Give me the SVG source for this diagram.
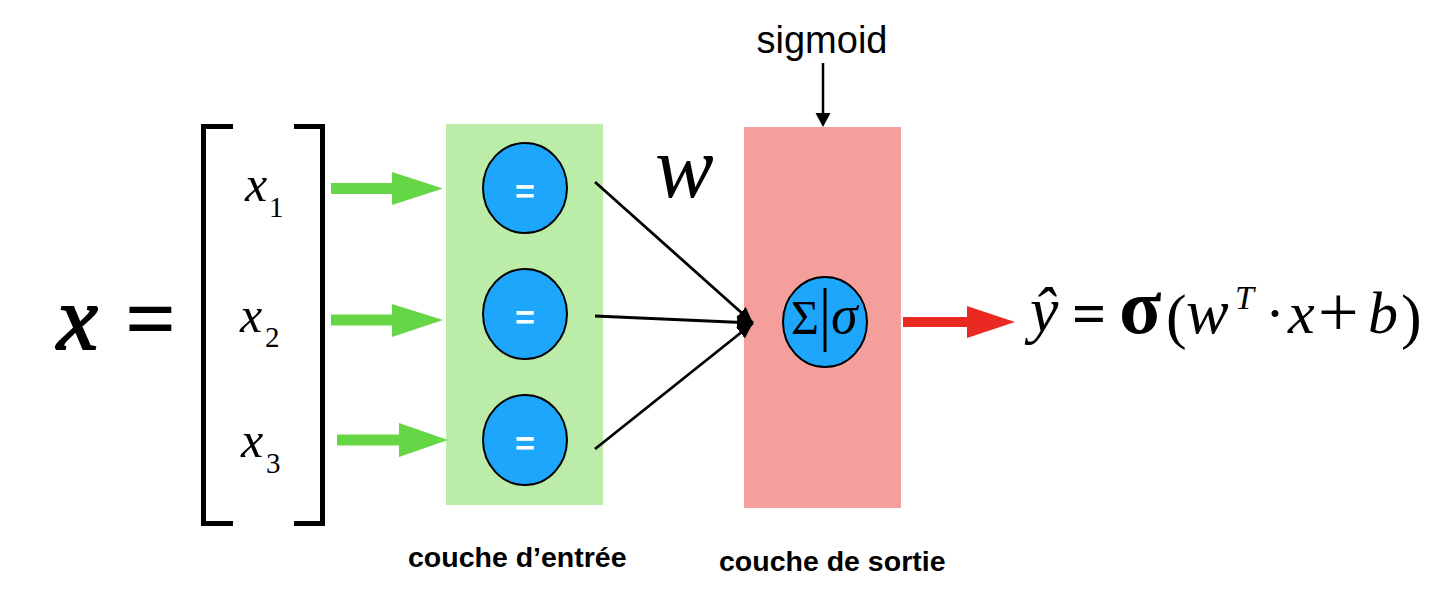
<svg xmlns="http://www.w3.org/2000/svg" width="1440" height="598" viewBox="0 0 1440 598">
  <style>
    .math { font-family: "Liberation Serif", "Times New Roman", serif; fill: #000; }
    .it { font-style: italic; }
    .lbl { font-family: "Liberation Sans", Arial, sans-serif; font-weight: bold; font-size: 28.5px; fill: #000; }
    .sans { font-family: "Liberation Sans", Arial, sans-serif; fill: #000; }
    .neuron { fill: #1ea6fc; stroke: #000; stroke-width: 2; }
    .eq { font-family: "Liberation Sans", Arial, sans-serif; font-weight: bold; font-size: 34px; fill: #fff; }
    .bracket { fill: none; stroke: #000; stroke-width: 5; }
    .wline { stroke: #000; stroke-width: 2.8; fill: none; }
    .garrow { fill: #65d645; }
    .rarrow { fill: #ea2a22; }
  </style>
  <defs>
    <marker id="ah" viewBox="0 0 16 14" refX="16" refY="7" markerWidth="16" markerHeight="14" markerUnits="userSpaceOnUse" orient="auto">
      <path d="M0,0 L16,7 L0,14 z" fill="#000"/>
    </marker>
  </defs>

  <rect width="1440" height="598" fill="#fff"/>

  <!-- Input vector -->
  <g id="input-vector">
    <text class="math it" x="57" y="349" font-size="92" stroke="#000" stroke-width="2">x</text>
    <text class="math" x="125" y="349" font-size="90" font-weight="bold">=</text>
    <path class="bracket" d="M233,126.5 H203.5 V523.5 H233"/>
    <path class="bracket" d="M294,126.5 H322.5 V523.5 H294"/>
    <text class="math it" x="245" y="201" font-size="50">x</text>
    <text class="math" x="269" y="217" font-size="29">1</text>
    <text class="math it" x="240" y="332" font-size="50">x</text>
    <text class="math" x="265" y="347" font-size="29">2</text>
    <text class="math it" x="241" y="457" font-size="50">x</text>
    <text class="math" x="266" y="473" font-size="29">3</text>
  </g>

  <!-- Input layer -->
  <g id="input-layer">
    <rect x="446" y="124" width="157" height="381" fill="#bbeda9"/>
    <g id="in1">
      <ellipse class="neuron" cx="525" cy="188" rx="42" ry="45"/>
      <text class="eq" x="525" y="203" text-anchor="middle">=</text>
    </g>
    <g id="in2">
      <ellipse class="neuron" cx="525" cy="314" rx="42" ry="45"/>
      <text class="eq" x="525" y="329" text-anchor="middle">=</text>
    </g>
    <g id="in3">
      <ellipse class="neuron" cx="525" cy="440" rx="42" ry="45"/>
      <text class="eq" x="525" y="455" text-anchor="middle">=</text>
    </g>
  </g>

  <!-- Output layer -->
  <g id="output-layer">
    <rect x="744" y="127" width="157" height="381" fill="#f59f9c"/>
    <g id="out">
      <ellipse class="neuron" cx="825" cy="322" rx="42" ry="45"/>
      <text class="math" x="791" y="334" font-size="48">Σ</text>
      <line x1="825" y1="288" x2="825" y2="352" stroke="#000" stroke-width="3"/>
      <text class="math it" x="831" y="333" font-size="54">σ</text>
    </g>
  </g>

  <!-- Connectors -->
  <g id="connectors">
    <polygon class="garrow" points="331,183 392,183 392,172 443,188.5 392,205 392,194 331,194"/>
    <polygon class="garrow" points="331,314.5 392,314.5 392,304 443,320 392,337 392,325.5 331,325.5"/>
    <polygon class="garrow" points="337,434.5 399,434.5 399,423 448,440 399,457 399,445.5 337,445.5"/>
    <line class="wline" x1="595" y1="182" x2="753" y2="323" marker-end="url(#ah)"/>
    <line class="wline" x1="595" y1="316" x2="753" y2="323" marker-end="url(#ah)"/>
    <line class="wline" x1="595" y1="449" x2="753" y2="323" marker-end="url(#ah)"/>
    <polygon class="rarrow" points="903,317 967,317 967,306 1015,322 967,338 967,327 903,327"/>
    <line x1="823" y1="63" x2="823" y2="114" stroke="#000" stroke-width="2.5"/>
    <polygon points="815.5,113 830.5,113 823,127" fill="#000"/>
  </g>

  <!-- Labels -->
  <g id="labels">
    <text class="math it" x="655" y="197" font-size="88">w</text>
    <text class="sans" x="822" y="53" font-size="38" text-anchor="middle">sigmoid</text>
    <text class="lbl" x="408" y="567">couche d’entrée</text>
    <text class="lbl" x="719" y="571">couche de sortie</text>
  </g>

  <!-- Formula -->
  <g id="formula" class="math">
    <text class="it" x="1030" y="331" font-size="64">ŷ</text>
    <text x="1072" y="333" font-size="60" font-weight="bold">=</text>
    <text x="1119" y="333" font-size="78" font-weight="bold">σ</text>
    <text x="1166" y="337" font-size="62">(</text>
    <text class="it" x="1186" y="333" font-size="64">w</text>
    <text class="it" x="1235" y="309" font-size="34">T</text>
    <text x="1265" y="333" font-size="60">·</text>
    <text class="it" x="1288" y="333" font-size="60">x</text>
    <text x="1318" y="336" font-size="72">+</text>
    <text class="it" x="1368" y="333" font-size="60">b</text>
    <text x="1401" y="337" font-size="62">)</text>
  </g>
</svg>
